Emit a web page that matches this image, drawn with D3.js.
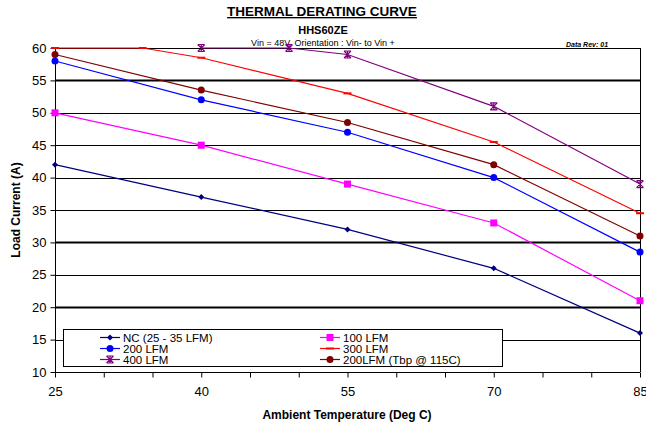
<!DOCTYPE html>
<html>
<head>
<meta charset="utf-8">
<script src="https://cdn.jsdelivr.net/npm/d3@7"></script>
<style>
body { margin: 0; background: #fff; }
svg { font-family: Arial, "Liberation Sans", sans-serif; }
</style>
</head>
<body>
<div class="canvas"></div>
<script>
var w = 646;
var h = 427;

// data
var ncX = [25, 40, 55, 70, 85];
var ncY = [42, 37, 32, 26, 16];
var lfm100X = [25, 40, 55, 70, 85];
var lfm100Y = [50, 45, 39, 33, 21];
var lfm200X = [25, 40, 55, 70, 85];
var lfm200Y = [58, 52, 47, 40, 28.5];
var lfm300X = [25, 34, 40, 55, 70, 85];
var lfm300Y = [60, 60, 58.5, 53, 45.5, 34.5];
var lfm400X = [40, 49, 55, 70, 85];
var lfm400Y = [60, 60, 59, 51, 39];
var tbpX = [25, 40, 55, 70, 85];
var tbpY = [59, 53.5, 48.5, 42, 31];

var xTicks = [25, 40, 55, 70, 85];
var yTicks = [10, 15, 20, 25, 30, 35, 40, 45, 50, 55, 60];

var series = [
    { name: "NC (25 - 35 LFM)", xs: ncX, ys: ncY, color: "#000080", marker: "diamond" },
    { name: "100 LFM", xs: lfm100X, ys: lfm100Y, color: "#ff00ff", marker: "square" },
    { name: "200 LFM", xs: lfm200X, ys: lfm200Y, color: "#0000ff", marker: "circle" },
    { name: "300 LFM", xs: lfm300X, ys: lfm300Y, color: "#ff0000", marker: "dash" },
    { name: "400 LFM", xs: lfm400X, ys: lfm400Y, color: "#800080", marker: "star" },
    { name: "200LFM (Tbp @ 115C)", xs: tbpX, ys: tbpY, color: "#800000", marker: "circle" }
];

var pLeft = 55, pRight = 640, pTop = 48, pBottom = 372;

var xScale = d3.scaleLinear().domain([25, 85]).range([pLeft, pRight]);
var yScale = d3.scaleLinear().domain([10, 60]).range([pBottom, pTop]);

var svg = d3.select(".canvas").append("svg")
    .attr("width", w)
    .attr("height", h);

// titles
svg.append("text").attr("x", 322).attr("y", 16).attr("text-anchor", "middle")
    .attr("font-size", "13.5px").attr("font-weight", "bold")
    .attr("text-decoration", "underline").text("THERMAL DERATING CURVE");
svg.append("text").attr("x", 323).attr("y", 34).attr("text-anchor", "middle")
    .attr("font-size", "11px").attr("font-weight", "bold").text("HHS60ZE");
svg.append("text").attr("x", 323).attr("y", 46).attr("text-anchor", "middle")
    .attr("font-size", "9px").text("Vin = 48V, Orientation : Vin- to Vin +");
svg.append("text").attr("x", 566).attr("y", 47).attr("text-anchor", "start")
    .attr("font-size", "7px").attr("font-weight", "bold").attr("font-style", "italic")
    .text("Data Rev:  01");

// gridlines
var grid = svg.append("g");
yTicks.forEach(function (t) {
    if (t == 10) return;
    grid.append("line")
        .attr("x1", pLeft).attr("x2", pRight)
        .attr("y1", Math.round(yScale(t)) + 0.5).attr("y2", Math.round(yScale(t)) + 0.5)
        .attr("stroke", "#000")
        .attr("stroke-width", (t == 55 || t == 30 || t == 20) ? 2 : 1.2);
});
// right border
svg.append("line").attr("x1", pRight + 0.5).attr("x2", pRight + 0.5)
    .attr("y1", pTop).attr("y2", pBottom).attr("stroke", "#000");

// axes
var xAxis = d3.axisBottom(xScale).tickValues(d3.range(25, 86, 5))
    .tickSize(5).tickFormat(function (d) { return xTicks.indexOf(d) >= 0 ? d : ""; });
var gx = svg.append("g").attr("transform", "translate(0," + (pBottom + 0.5) + ")").call(xAxis);
gx.select(".domain").attr("d", "M" + pLeft + ",0H" + pRight);
gx.selectAll("text").attr("font-size", "13px").attr("dy", "1.2em").attr("font-family", "Arial, 'Liberation Sans', sans-serif");

var yAxis = d3.axisLeft(yScale).tickValues(yTicks).tickSize(5);
var gy = svg.append("g").attr("transform", "translate(" + (pLeft + 0.5) + ",0)").call(yAxis);
gy.select(".domain").attr("d", "M0," + pTop + "V" + pBottom);
gy.selectAll("text").attr("font-size", "13px").attr("x", -9).attr("font-family", "Arial, 'Liberation Sans', sans-serif");

svg.append("text").attr("x", 347).attr("y", 419).attr("text-anchor", "middle")
    .attr("font-size", "12px").attr("font-weight", "bold").text("Ambient Temperature (Deg C)");
svg.append("text").attr("transform", "translate(20,210) rotate(-90)").attr("text-anchor", "middle")
    .attr("font-size", "12px").attr("font-weight", "bold").text("Load Current (A)");

function drawMarker(g, type, x, y, color) {
    if (type == "diamond") {
        g.append("path").attr("d", "M" + x + "," + (y - 3) + "L" + (x + 3) + "," + y + "L" + x + "," + (y + 3) + "L" + (x - 3) + "," + y + "Z")
            .attr("fill", color);
    } else if (type == "square") {
        g.append("rect").attr("x", x - 3.5).attr("y", y - 3.5).attr("width", 7).attr("height", 7).attr("fill", color);
    } else if (type == "circle") {
        g.append("circle").attr("cx", x).attr("cy", y).attr("r", 3.5).attr("fill", color);
    } else if (type == "dash") {
        g.append("line").attr("x1", x - 4).attr("x2", x + 4).attr("y1", y).attr("y2", y)
            .attr("stroke", color).attr("stroke-width", 2);
    } else if (type == "star") {
        var s = 3.5;
        g.append("path").attr("d", "M" + (x - s) + "," + (y - s) + "L" + (x + s) + "," + (y + s) +
            "M" + (x - s) + "," + (y + s) + "L" + (x + s) + "," + (y - s) +
            "M" + x + "," + (y - s) + "L" + x + "," + (y + s) +
            "M" + (x - s) + "," + (y - s) + "H" + (x + s) + "M" + (x - s) + "," + (y + s) + "H" + (x + s))
            .attr("stroke", color).attr("stroke-width", 1.2).attr("fill", "none");
    }
}

// series
var line = d3.line().x(function (d) { return xScale(d[0]); }).y(function (d) { return yScale(d[1]); });
var layer = svg.append("g");
series.forEach(function (s) {
    var pts = s.xs.map(function (x, i) { return [x, s.ys[i]]; });
    layer.append("path").datum(pts).attr("d", line)
        .attr("fill", "none").attr("stroke", s.color).attr("stroke-width", 1.2);
    pts.forEach(function (p) {
        drawMarker(layer, s.marker, xScale(p[0]), yScale(p[1]), s.color);
    });
});

// legend
var leg = svg.append("g");
leg.append("rect").attr("x", 63.5).attr("y", 329.5).attr("width", 439).attr("height", 37)
    .attr("fill", "#fff").attr("stroke", "#000");
series.forEach(function (s, i) {
    var col = i % 2, row = Math.floor(i / 2);
    var lx = col == 0 ? 100 : 320;
    var ly = 337.5 + row * 11;
    leg.append("line").attr("x1", lx).attr("x2", lx + 20).attr("y1", ly).attr("y2", ly)
        .attr("stroke", s.color).attr("stroke-width", 1.2);
    drawMarker(leg, s.marker, lx + 10, ly, s.color);
    leg.append("text").attr("x", lx + 23).attr("y", ly + 4.5).attr("font-size", "11.5px").text(s.name);
});
</script>
</body>
</html>
